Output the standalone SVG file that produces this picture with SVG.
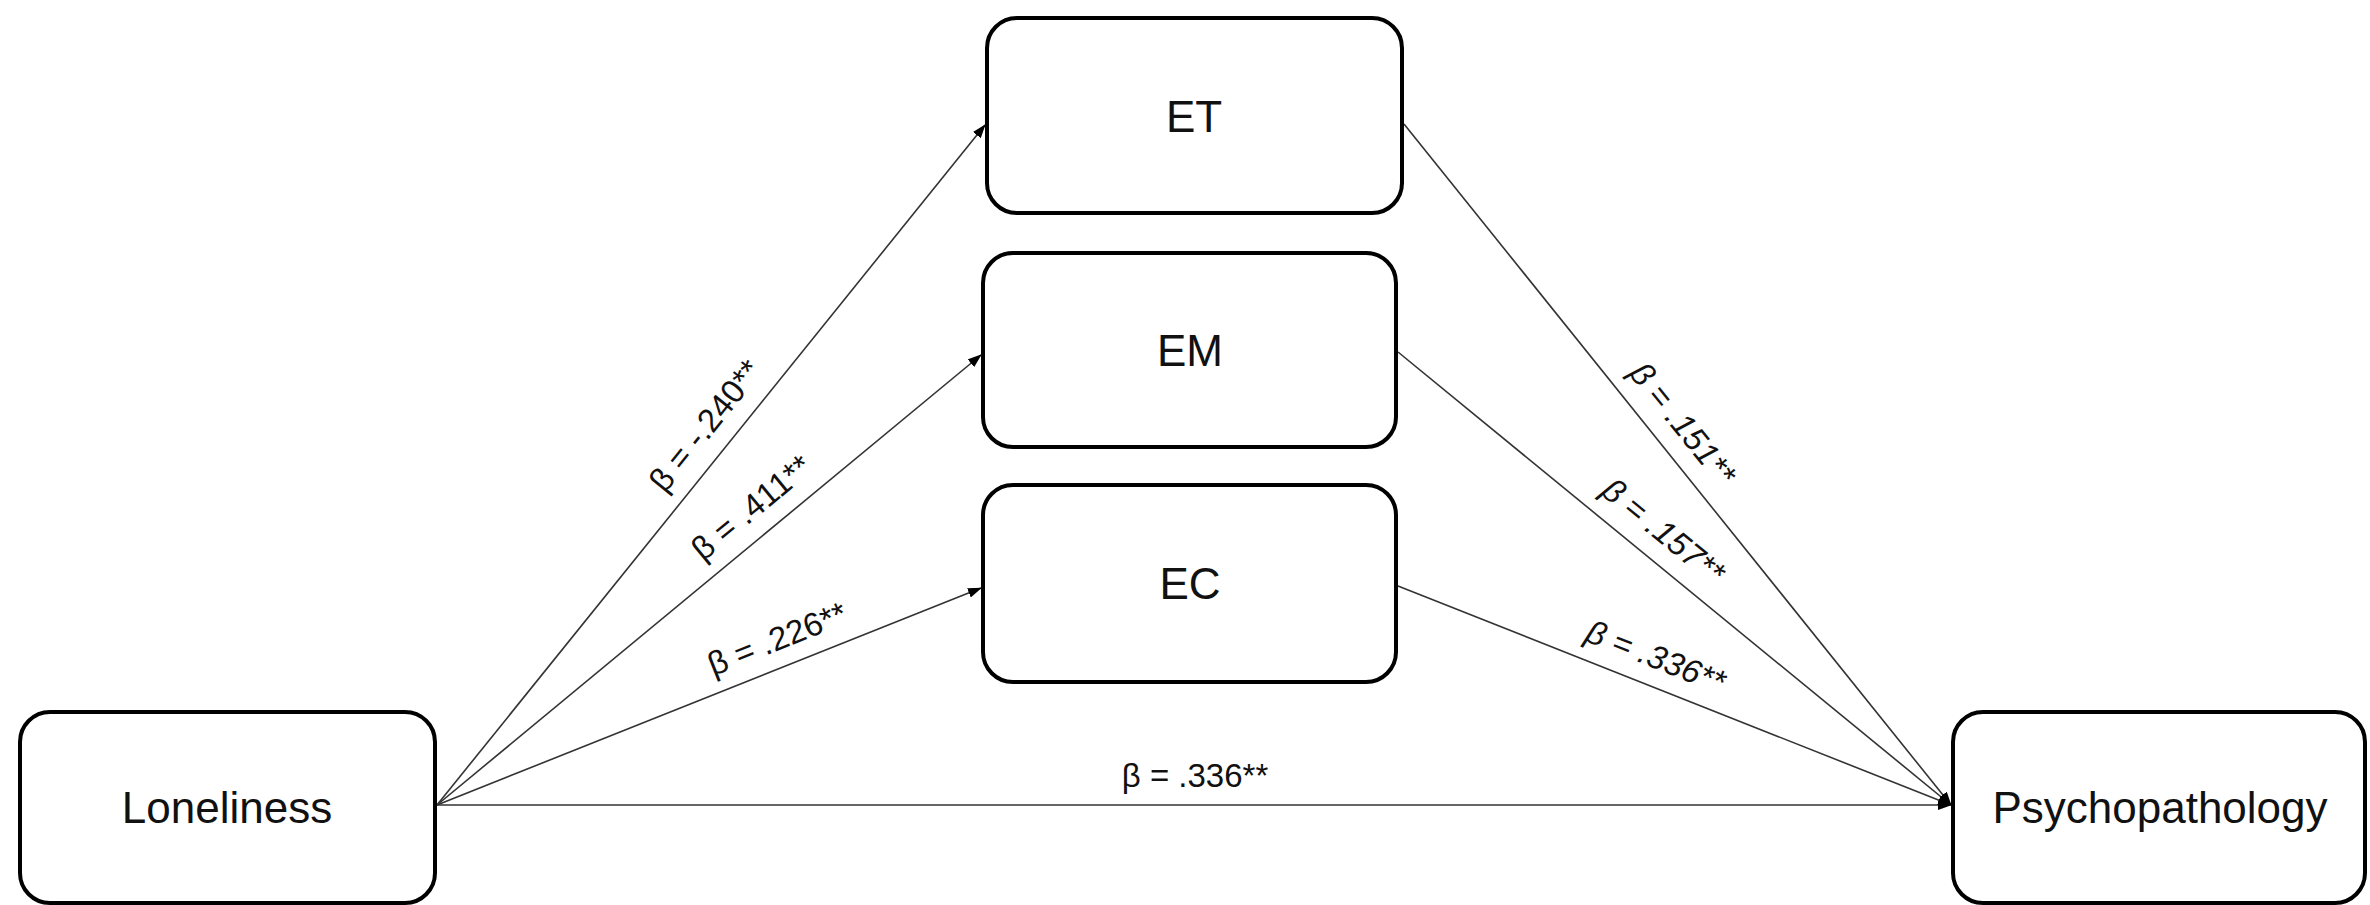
<svg xmlns="http://www.w3.org/2000/svg" width="2370" height="905" viewBox="0 0 2370 905">
<style>
.box{fill:#fff;stroke:#000;stroke-width:4}
.nt{font-family:"Liberation Sans",Arial,sans-serif;font-size:44px;fill:#111;text-anchor:middle}
.lb{font-family:"Liberation Sans",Arial,sans-serif;font-size:33px;fill:#111;text-anchor:middle}
.it{font-style:italic}
.cn{stroke:#333;stroke-width:1.6;fill:none;marker-end:url(#ah)}
</style>
<defs>
<marker id="ah" markerUnits="userSpaceOnUse" markerWidth="14" markerHeight="10" refX="13" refY="5" orient="auto">
<path d="M0,0 L14,5 L0,10 Z" fill="#000"/>
</marker>
</defs>
<rect width="2370" height="905" fill="#fff"/>
<g id="connectors">
<line class="cn" x1="437" y1="805" x2="985" y2="125"/>
<line class="cn" x1="437" y1="805" x2="981" y2="355"/>
<line class="cn" x1="437" y1="805" x2="981" y2="588"/>
<line class="cn" x1="437" y1="805" x2="1951" y2="805"/>
<line class="cn" x1="1404" y1="124" x2="1951" y2="805"/>
<line class="cn" x1="1398" y1="352" x2="1951" y2="805"/>
<line class="cn" x1="1398" y1="586" x2="1951" y2="805"/>
<g transform="translate(728,444) rotate(-51.2)"><text class="lb" x="0" y="-18">β = -.240**</text></g>
<g transform="translate(770,530) rotate(-39.5)"><text class="lb" x="0" y="-18">β = .411**</text></g>
<g transform="translate(788,666) rotate(-21.7)"><text class="lb" x="0" y="-18">β = .226**</text></g>
<text class="lb" x="1195" y="787">β = .336**</text>
<g transform="translate(1660,442) rotate(51.1)"><text class="lb it" x="0" y="-18">β = .151**</text></g>
<g transform="translate(1645,554) rotate(39.1)"><text class="lb it" x="0" y="-18">β = .157**</text></g>
<g transform="translate(1645,684) rotate(21.5)"><text class="lb it" x="0" y="-18">β = .336**</text></g>
</g>
<g id="loneliness">
<rect class="box" x="20" y="712" width="415" height="191" rx="30"/>
<text class="nt" x="227" y="823">Loneliness</text>
</g>
<g id="et">
<rect class="box" x="987" y="18" width="415" height="195" rx="30"/>
<text class="nt" x="1194" y="132">ET</text>
</g>
<g id="em">
<rect class="box" x="983" y="253" width="413" height="194" rx="30"/>
<text class="nt" x="1190" y="366">EM</text>
</g>
<g id="ec">
<rect class="box" x="983" y="485" width="413" height="197" rx="30"/>
<text class="nt" x="1190" y="599">EC</text>
</g>
<g id="psychopathology">
<rect class="box" x="1953" y="712" width="412" height="191" rx="30"/>
<text class="nt" x="2160" y="823">Psychopathology</text>
</g>
</svg>
